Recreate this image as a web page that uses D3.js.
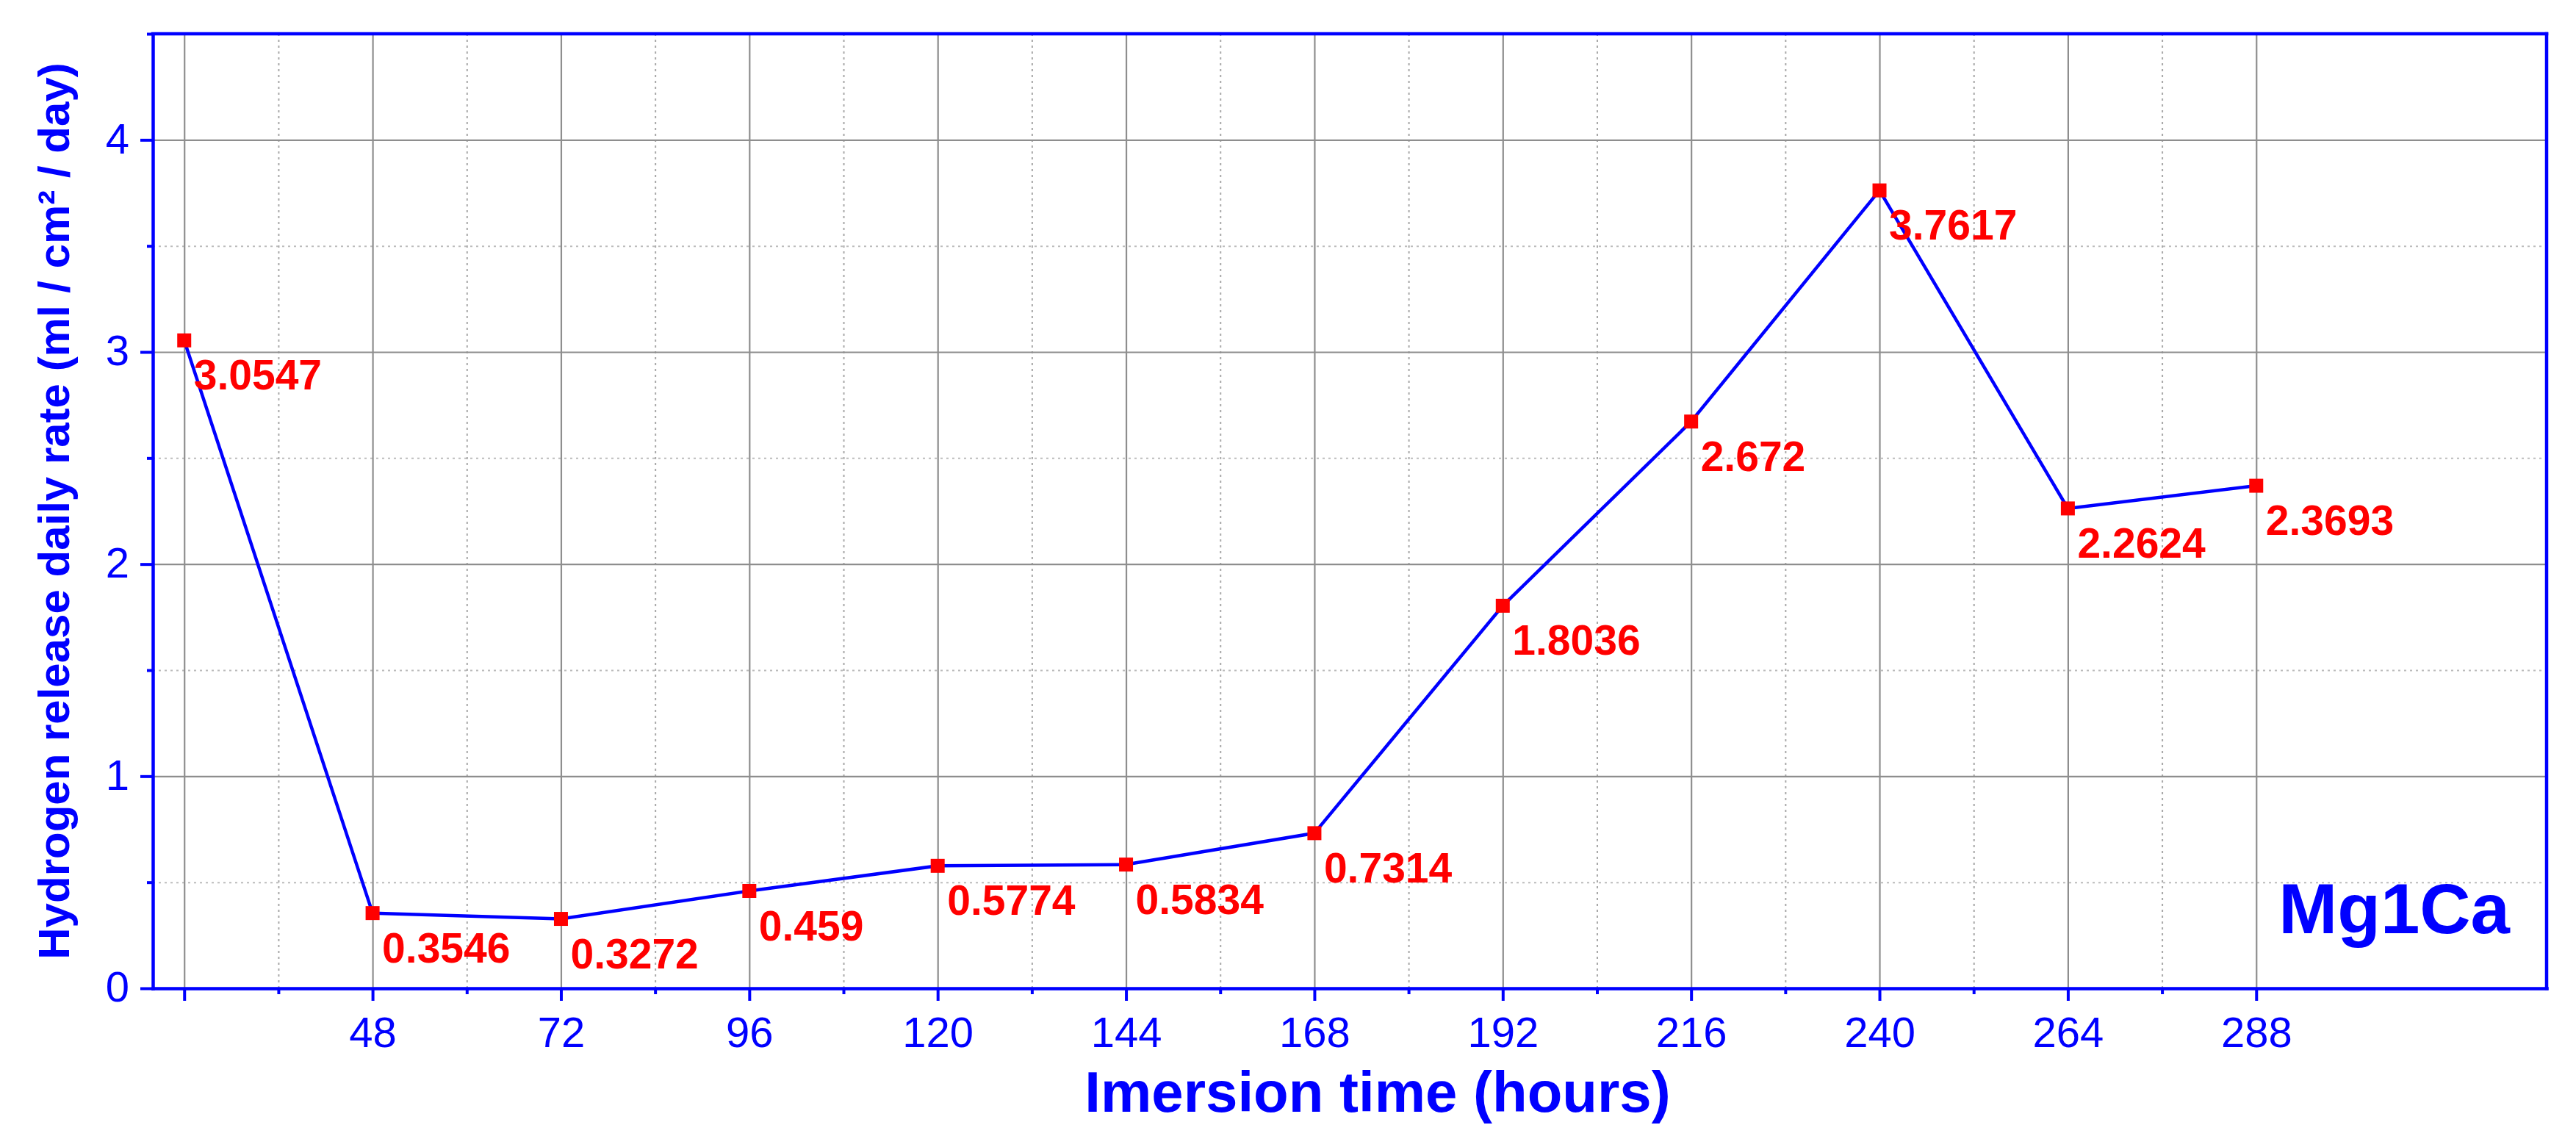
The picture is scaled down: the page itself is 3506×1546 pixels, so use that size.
<!DOCTYPE html>
<html><head><meta charset="utf-8">
<script src="https://cdn.jsdelivr.net/npm/d3@7"></script>
<style>body{margin:0;background:#fff} svg{display:block}</style>
</head><body><svg id="c" width="3506" height="1546"></svg>
<script>
// ---- data ----
const hours = [24, 48, 72, 96, 120, 144, 168, 192, 216, 240, 264, 288];
const rates = [3.0547, 0.3546, 0.3272, 0.459, 0.5774, 0.5834, 0.7314, 1.8036, 2.672, 3.7617, 2.2624, 2.3693];
const xMajorTicks = [24, 48, 72, 96, 120, 144, 168, 192, 216, 240, 264, 288];
const xTickLabels = ["", "48", "72", "96", "120", "144", "168", "192", "216", "240", "264", "288"];
const xMinorTicks = [36, 60, 84, 108, 132, 156, 180, 204, 228, 252, 276];
const yMajorTicks = [0, 1, 2, 3, 4];
const yTickLabels = ["0", "1", "2", "3", "4"];
const yMinorTicks = [0.5, 1.5, 2.5, 3.5, 4.5];
const xTitle = "Imersion time (hours)";
const yTitle = "Hydrogen release daily rate (ml / cm\u00B2 / day)";
const sampleName = "Mg1Ca";

// ---- layout ----
const W = 3506, H = 1546;
const m = {l: 208, t: 46, r: 40, b: 201};
const FONT = "'Liberation Sans', Arial, sans-serif";
const BLUE = "#0000ff", RED = "#ff0000";
const x = d3.scaleLinear().domain([20, 325]).range([m.l, W - m.r]);
const y = d3.scaleLinear().domain([0, 4.5]).range([H - m.b, m.t]);
const pw = W - m.l - m.r, ph = H - m.t - m.b;

const svg = d3.select("#c");
svg.append("rect").attr("width", W).attr("height", H).attr("fill", "#fff");

// ---- grid ----
const grid = svg.append("g");
function gridX(vals, cls) {
  const g = grid.append("g").attr("transform", `translate(0,${H - m.b})`)
    .call(d3.axisBottom(x).tickValues(vals).tickSize(-ph).tickFormat(""));
  g.select(".domain").remove();
  return g.selectAll("line");
}
function gridY(vals) {
  const g = grid.append("g").attr("transform", `translate(${m.l},0)`)
    .call(d3.axisLeft(y).tickValues(vals).tickSize(-pw).tickFormat(""));
  g.select(".domain").remove();
  return g.selectAll("line");
}
gridX(xMinorTicks).attr("stroke", "#a8a8a8").attr("stroke-width", 2).attr("stroke-dasharray", "3,5");
gridY(yMinorTicks.filter(v => v < 4.5)).attr("stroke", "#bcbcbc").attr("stroke-width", 2).attr("stroke-dasharray", "3,5");
gridX(xMajorTicks).attr("stroke", "#8e8e8e").attr("stroke-width", 2.2);
gridY(yMajorTicks.filter(v => v > 0)).attr("stroke", "#8e8e8e").attr("stroke-width", 2.2);

// ---- data line ----
const pts = hours.map((h, i) => ({h, v: rates[i]}));
svg.append("path").datum(pts)
  .attr("fill", "none").attr("stroke", BLUE).attr("stroke-width", 4.5)
  .attr("stroke-linejoin", "round")
  .attr("d", d3.line().x(d => x(d.h)).y(d => y(d.v)));

svg.append("g").selectAll("rect").data(pts).join("rect")
  .attr("x", d => x(d.h) - 9.5).attr("y", d => y(d.v) - 9.5)
  .attr("width", 19).attr("height", 19).attr("fill", RED);

svg.append("g").selectAll("text").data(pts).join("text")
  .attr("x", d => x(d.h) + 13).attr("y", d => y(d.v) + 67)
  .attr("font-family", FONT).attr("font-weight", "bold").attr("font-size", 57)
  .attr("fill", RED).text(d => String(d.v));

// ---- axes ----
const ax = svg.append("g");
// bottom
const xa = ax.append("g").attr("transform", `translate(0,${H - m.b})`)
  .call(d3.axisBottom(x).tickValues(xMajorTicks).tickSizeInner(17).tickSizeOuter(0)
    .tickFormat((d, i) => xTickLabels[i]));
const xm = ax.append("g").attr("transform", `translate(0,${H - m.b})`)
  .call(d3.axisBottom(x).tickValues(xMinorTicks).tickSizeInner(8).tickSizeOuter(0).tickFormat(""));
xm.select(".domain").remove();
xa.selectAll(".tick text").attr("y", 80).attr("dy", 0);
// left
const ya = ax.append("g").attr("transform", `translate(${m.l},0)`)
  .call(d3.axisLeft(y).tickValues(yMajorTicks).tickSizeInner(17).tickSizeOuter(0)
    .tickFormat((d, i) => yTickLabels[i]));
const ym = ax.append("g").attr("transform", `translate(${m.l},0)`)
  .call(d3.axisLeft(y).tickValues(yMinorTicks).tickSizeInner(8).tickSizeOuter(0).tickFormat(""));
ym.select(".domain").remove();
ya.selectAll(".tick text").attr("x", -32).attr("dy", "0.31em");

[xa, xm, ya, ym].forEach(g => {
  g.selectAll(".domain").attr("stroke", BLUE).attr("stroke-width", 4.5).attr("stroke-linecap", "square");
  g.selectAll(".tick line").attr("stroke", BLUE).attr("stroke-width", 4);
  g.selectAll(".tick text").attr("fill", BLUE).attr("font-family", FONT).attr("font-size", 58);
});

// top & right frame
ax.append("line").attr("x1", x.range()[0]).attr("x2", x.range()[1]).attr("y1", y.range()[1]).attr("y2", y.range()[1])
  .attr("stroke", BLUE).attr("stroke-width", 4.5).attr("stroke-linecap", "square");
ax.append("line").attr("x1", x.range()[1]).attr("x2", x.range()[1]).attr("y1", y.range()[0]).attr("y2", y.range()[1])
  .attr("stroke", BLUE).attr("stroke-width", 4.5).attr("stroke-linecap", "square");

// ---- titles ----
svg.append("text").attr("x", m.l + pw / 2 + 38).attr("y", 1513)
  .attr("text-anchor", "middle").attr("font-family", FONT).attr("font-weight", "bold")
  .attr("font-size", 78).attr("fill", BLUE).text(xTitle);
svg.append("text").attr("transform", `translate(94,${m.t + ph / 2}) rotate(-90)`)
  .attr("text-anchor", "middle").attr("font-family", FONT).attr("font-weight", "bold")
  .attr("font-size", 60).attr("fill", BLUE).text(yTitle);
svg.append("text").attr("x", W - m.r - 50).attr("y", H - m.b - 75)
  .attr("text-anchor", "end").attr("font-family", FONT).attr("font-weight", "bold")
  .attr("font-size", 96).attr("fill", BLUE).text(sampleName);
</script>
</body></html>
